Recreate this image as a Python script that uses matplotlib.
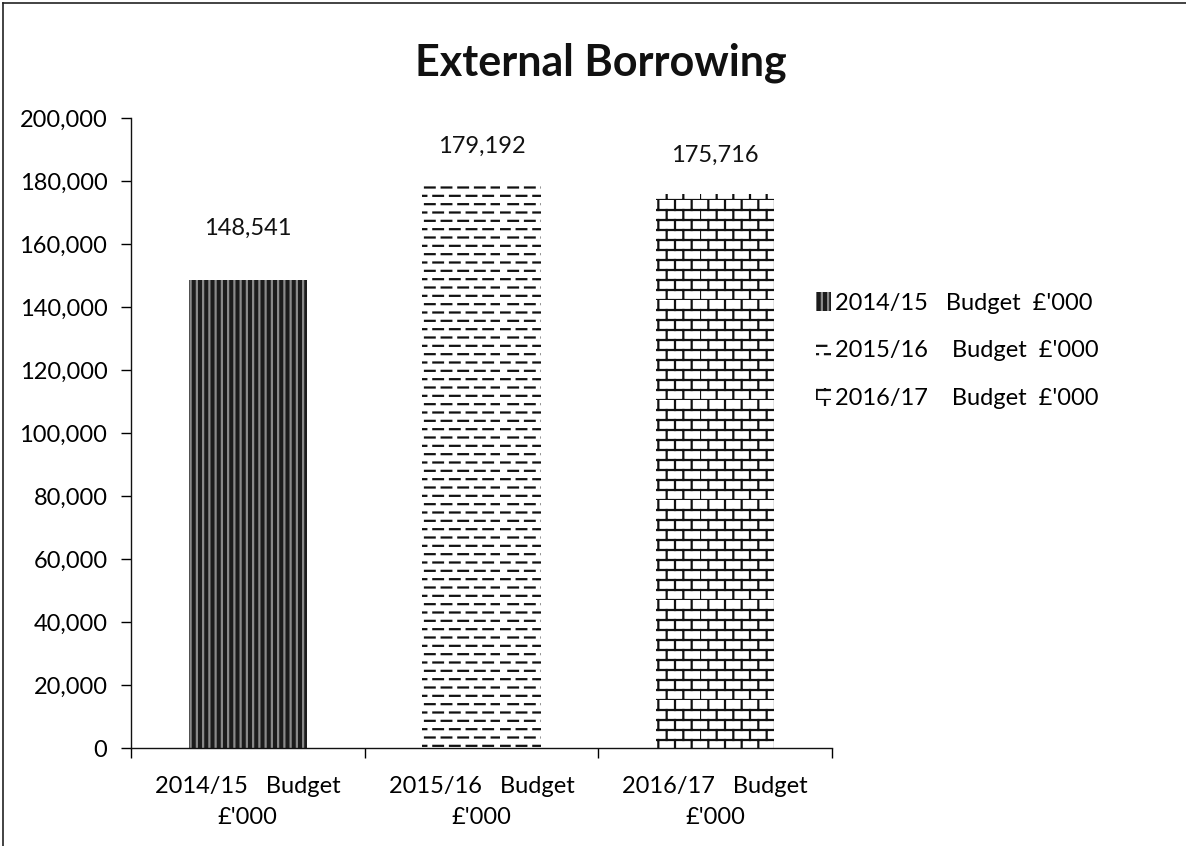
import warnings
warnings.filterwarnings("ignore")
import numpy as np
import matplotlib
matplotlib.use("Agg")
import matplotlib.pyplot as plt
import matplotlib.hatch as mhatch
from matplotlib.path import Path
from matplotlib.lines import Line2D
from matplotlib.ticker import FuncFormatter

# ---------------- data ----------------
categories = ["2014/15   Budget\n£'000", "2015/16   Budget\n£'000", "2016/17   Budget\n£'000"]
legend_labels = ["2014/15   Budget  £'000", "2015/16    Budget  £'000", "2016/17    Budget  £'000"]
values = [148541, 179192, 175716]
value_labels = ["148,541", "179,192", "175,716"]
label_offsets_px = [52, 37, 39]

# ---------------- custom hatches ----------------
class BrickHatch(mhatch.HatchPatternBase):
    def __init__(self, hatch, density):
        n = hatch.count('b')
        self.rows = 10 if n else 0
        self.cols = 6
        self.num_vertices = (self.rows * 2 + self.rows * self.cols * 2) if n else 0

    def set_vertices_and_codes(self, vertices, codes):
        k = 0
        for i in range(self.rows):
            y = i / self.rows
            vertices[k] = (0, y); vertices[k + 1] = (1, y)
            codes[k] = Path.MOVETO; codes[k + 1] = Path.LINETO
            k += 2
        for i in range(self.rows):
            y0 = i / self.rows
            y1 = (i + 1) / self.rows
            off = 0.5 * (i % 2)
            for j in range(self.cols):
                x = ((j + off) / self.cols) % 1.0
                vertices[k] = (x, y0); vertices[k + 1] = (x, y1)
                codes[k] = Path.MOVETO; codes[k + 1] = Path.LINETO
                k += 2


class DashHatch(mhatch.HatchPatternBase):
    def __init__(self, hatch, density):
        n = hatch.count('d')
        self.rows = 12 if n else 0
        self.cols = 6
        self.num_vertices = (self.rows * self.cols * 2) if n else 0

    def set_vertices_and_codes(self, vertices, codes):
        k = 0
        L = 0.58 / self.cols
        for i in range(self.rows):
            y = (i + 0.5) / self.rows
            off = 0.5 * (i % 2)
            for j in range(self.cols):
                x0 = (j + off) / self.cols
                x1 = min(x0 + L, 1.0)
                vertices[k] = (x0, y); vertices[k + 1] = (x1, y)
                codes[k] = Path.MOVETO; codes[k + 1] = Path.LINETO
                k += 2


class DenseVertHatch(mhatch.HatchPatternBase):
    def __init__(self, hatch, density):
        n = hatch.count('v')
        self.lines = 16 if n else 0
        self.num_vertices = self.lines * 2 if n else 0

    def set_vertices_and_codes(self, vertices, codes):
        k = 0
        for i in range(self.lines):
            x = (i + 0.5) / self.lines
            vertices[k] = (x, 0); vertices[k + 1] = (x, 1)
            codes[k] = Path.MOVETO; codes[k + 1] = Path.LINETO
            k += 2


mhatch._hatch_types.extend([BrickHatch, DashHatch, DenseVertHatch])

# ---------------- figure ----------------
plt.rcParams['font.family'] = ['Lato', 'DejaVu Sans']
plt.rcParams['hatch.linewidth'] = 1.6

FS = 17
fig = plt.figure(figsize=(11.86, 8.46), dpi=100)
ax = fig.add_axes([131 / 1186, 1 - 748 / 846, (832 - 131) / 1186, (748 - 118) / 846])

x = np.arange(len(categories))
styles = [
    dict(facecolor='#1c1c1c', edgecolor='#8a8a8a', hatch='v'),
    dict(facecolor='white', edgecolor='#111111', hatch='d'),
    dict(facecolor='white', edgecolor='#111111', hatch='b'),
]
for i, (xi, v) in enumerate(zip(x, values)):
    ax.bar(xi, v, width=0.505, linewidth=0, label=legend_labels[i], **styles[i])

for xi, v, lab, off in zip(x, values, value_labels, label_offsets_px):
    ax.annotate(lab, (xi, v), xytext=(0, off * 0.72), textcoords='offset points',
                ha='center', va='center', fontsize=FS, color='#111111')

ax.set_ylim(0, 200000)
ax.set_xlim(-0.5, 2.5)
ax.set_yticks(np.arange(0, 200001, 20000))
ax.yaxis.set_major_formatter(FuncFormatter(lambda v, p: f"{int(v):,}"))
ax.set_xticks(x)
ax.set_xticklabels(categories, fontsize=FS, linespacing=1.6)
ax.set_xticks(np.arange(-0.5, 3.0, 1.0), minor=True)
ax.tick_params(axis='x', which='major', length=0, pad=20)
ax.tick_params(axis='x', which='minor', length=7, width=1, direction='out')
ax.tick_params(axis='y', length=7, width=1, direction='out', labelsize=FS, pad=10)
for s in ['top', 'right']:
    ax.spines[s].set_visible(False)
for s in ['left', 'bottom']:
    ax.spines[s].set_linewidth(1.0)
    ax.spines[s].set_color('#111111')

fig.text(601 / 1186, 1 - 63 / 846, "External Borrowing", ha='center', va='center',
         fontsize=31, fontweight='bold', color='#111111')

leg = ax.legend(loc='upper left', bbox_to_anchor=(807 / 1186, 1 - 283 / 846),
                bbox_transform=fig.transFigure, frameon=False, fontsize=FS,
                handlelength=0.6, handleheight=0.8, handletextpad=0.2,
                labelspacing=1.12, borderaxespad=0)

# figure border (left & top)
fig.add_artist(Line2D([3 / 1186, 3 / 1186], [0, 1 - 3 / 846], transform=fig.transFigure,
                      color='#222222', linewidth=1.2))
fig.add_artist(Line2D([3 / 1186, 1], [1 - 3 / 846, 1 - 3 / 846], transform=fig.transFigure,
                      color='#222222', linewidth=1.2))

fig.savefig("out.png", dpi=100)
